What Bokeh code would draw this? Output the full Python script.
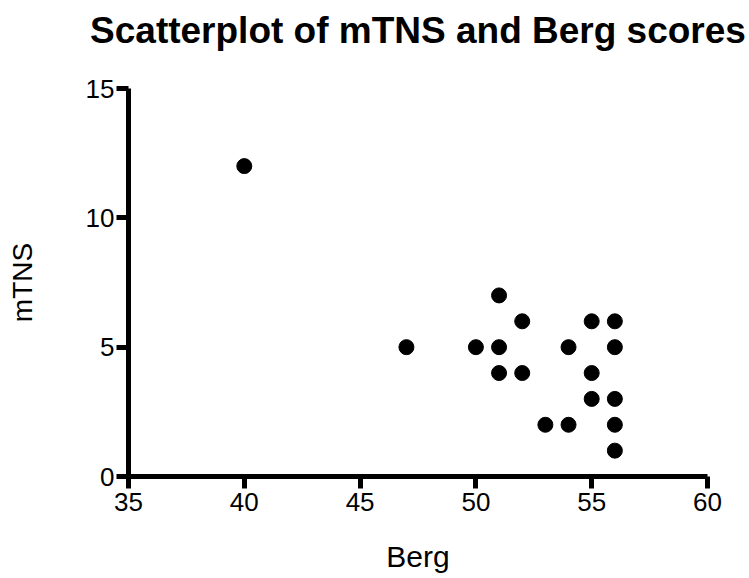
from bokeh.plotting import figure
from bokeh.models import Range1d, FixedTicker, ColumnDataSource, LinearAxis
from bokeh.embed import file_html
from bokeh.resources import INLINE

# Data
berg = [40, 47, 50, 51, 51, 51, 52, 52, 53, 54, 54, 55, 55, 55, 56, 56, 56, 56, 56]
mtns = [12, 5, 5, 7, 5, 4, 6, 4, 2, 5, 2, 6, 4, 3, 6, 5, 3, 2, 1]
x_ticks = [35, 40, 45, 50, 55, 60]
y_ticks = [0, 5, 10, 15]
title_text = "Scatterplot of mTNS and Berg scores"

FONT = "Liberation Sans"

p = figure(width=749, height=578,
           x_range=Range1d(35, 60), y_range=Range1d(0, 15),
           min_border_left=128, min_border_right=42,
           min_border_top=88, min_border_bottom=102,
           toolbar_location=None, output_backend="svg")

xax = p.below[0]
yax = p.left[0]

p.grid.visible = False
p.outline_line_color = None
p.background_fill_color = "white"
p.border_fill_color = "white"

for ax in (xax, yax):
    ax.axis_line_width = 5
    ax.axis_line_color = "black"
    ax.major_tick_line_width = 5
    ax.major_tick_line_color = "black"
    ax.major_tick_out = 12
    ax.major_tick_in = 0
    ax.minor_tick_line_color = None
    ax.major_label_text_font = FONT
    ax.major_label_text_font_size = "26px"
    ax.major_label_text_color = "black"
    ax.axis_label_text_font = FONT
    ax.axis_label_text_font_style = "normal"
    ax.axis_label_text_color = "black"

xax.axis_label_text_font_size = "30px"
yax.axis_label_text_font_size = "28px"
xax.ticker = FixedTicker(ticks=x_ticks)
yax.ticker = FixedTicker(ticks=y_ticks)
xax.axis_label = "Berg"
yax.axis_label = "mTNS"
xax.major_label_standoff = 4
yax.major_label_standoff = 2
xax.axis_label_standoff = 26
yax.axis_label_standoff = 45

# Title drawn as the label of an otherwise empty axis above the frame
title_axis = LinearAxis(ticker=FixedTicker(ticks=[]), axis_label=title_text,
                        axis_line_color=None, major_tick_line_color=None,
                        minor_tick_line_color=None, major_tick_out=0,
                        major_tick_in=0, major_label_standoff=0,
                        major_label_text_color=None,
                        axis_label_standoff=38,
                        axis_label_text_font=FONT,
                        axis_label_text_font_size="37px",
                        axis_label_text_font_style="bold",
                        axis_label_text_color="black")
p.add_layout(title_axis, "above")

src = ColumnDataSource(dict(x=berg, y=mtns))
p.scatter("x", "y", source=src, size=15, color="black", marker="circle")

open("out.html", "w").write(file_html(p, INLINE))
